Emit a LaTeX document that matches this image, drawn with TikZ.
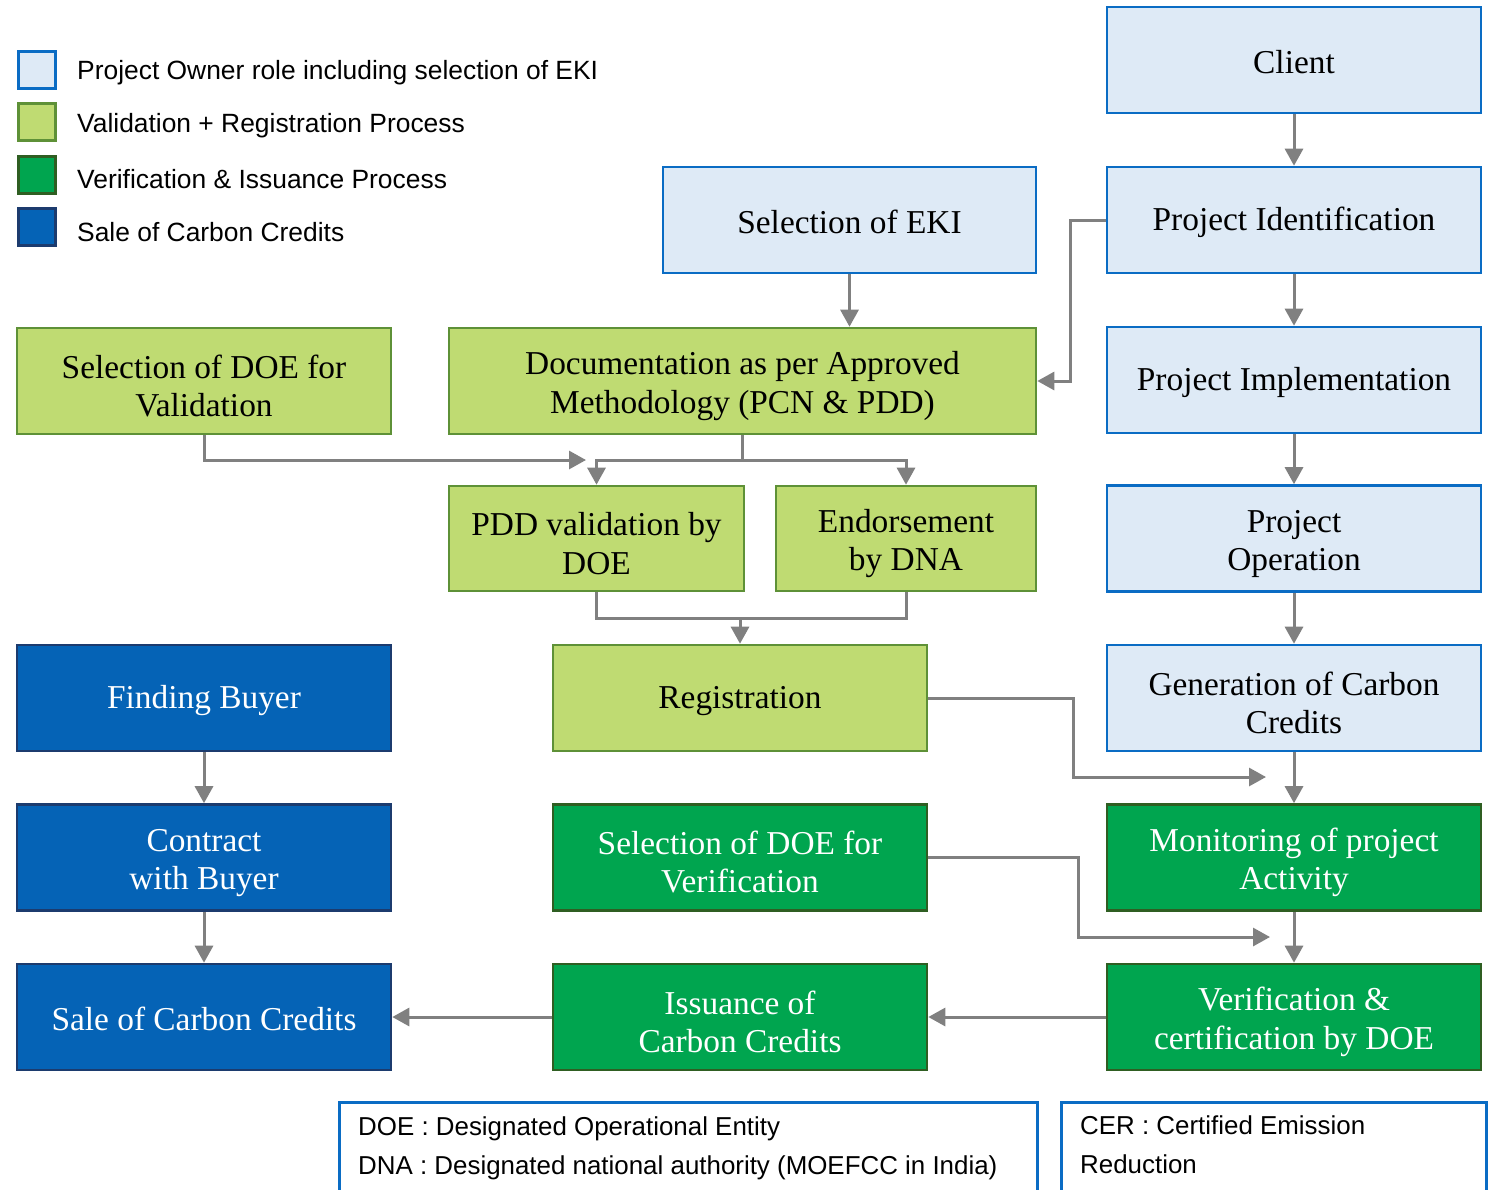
\documentclass[tikz,border=0pt]{standalone}
\usepackage{fontspec}
\setmainfont{Liberation Serif}
\newfontfamily\legfont{Liberation Sans}
\usetikzlibrary{arrows.meta}
\newcommand\tstrut{\rule{0pt}{33bp}}
\definecolor{lbfill}{HTML}{DEEAF6}
\definecolor{lbdraw}{HTML}{0A6CC4}
\definecolor{lgfill}{HTML}{BFDB72}
\definecolor{lgdraw}{HTML}{5E9137}
\definecolor{dgfill}{HTML}{00A54F}
\definecolor{dgdraw}{HTML}{2F5E22}
\definecolor{dbfill}{HTML}{0563B6}
\definecolor{dbdraw}{HTML}{1C3B6E}
\definecolor{conncol}{HTML}{808080}
\tikzset{
  base/.style={rectangle, line width=2.6bp, minimum width=374bp, minimum height=106bp, align=center, inner sep=2bp, font=\fontsize{33.5}{38.5}\selectfont, execute at begin node={\rule{0pt}{28bp}}},
  twoline/.style={execute at begin node={}},
  pbox/.style={base, fill=lbfill, draw=lbdraw, text=black},
  vbox/.style={base, fill=lgfill, draw=lgdraw, text=black},
  ibox/.style={base, fill=dgfill, draw=dgdraw, text=white},
  sbox/.style={base, fill=dbfill, draw=dbdraw, text=white},
  conn/.style={draw=conncol, line width=3bp},
  arr/.style={conn, -{Triangle[length=17bp,width=18bp]}},
  legsq/.style={rectangle, line width=2.6bp, minimum width=37bp, minimum height=37bp, inner sep=0pt},
  legtxt/.style={anchor=west, inner sep=0pt, font=\legfont\fontsize{26.5}{30}\selectfont},
  notebox/.style={rectangle, draw=lbdraw, fill=white, line width=2.6bp, anchor=north west, align=left, inner sep=0pt},
  notetxt/.style={anchor=north west, inner sep=0pt, align=left, font=\legfont\fontsize{26}{38.5}\selectfont},
}
\begin{document}
\begin{tikzpicture}[x=1bp,y=-1bp]
\useasboundingbox[fill=white] (0,0) rectangle (1491,1189);
% legend
\node[legsq, fill=lbfill, draw=lbdraw] (l1) at (37,70) {};
\node[legsq, fill=lgfill, draw=lgdraw] (l2) at (37,122) {};
\node[legsq, fill=dgfill, draw=dgdraw] (l3) at (37,175) {};
\node[legsq, fill=dbfill, draw=dbdraw] (l4) at (37,227) {};
\node[legtxt] (t1) at (77,73) {Project Owner role including selection of EKI};
\node[legtxt] (t2) at (77,126) {Validation + Registration Process};
\node[legtxt] (t3) at (77,179) {Verification \& Issuance Process};
\node[legtxt] (t4) at (77,232) {Sale of Carbon Credits};
% right column
\node[pbox] (client) at (1294,60) {Client};
\node[pbox] (pid) at (1294,220) {Project Identification};
\node[pbox] (pimpl) at (1294,380) {Project Implementation};
\node[pbox, twoline] (pop) at (1294,538.5) {\tstrut Project\\Operation};
\node[pbox, twoline] (gen) at (1294,698) {\tstrut Generation of Carbon\\Credits};
\node[ibox, twoline] (mon) at (1294,857.5) {\tstrut Monitoring of project\\Activity};
\node[ibox, twoline] (ver) at (1294,1017) {\tstrut Verification \&\\certification by DOE};
% middle
\node[pbox, minimum width=373bp] (eki) at (849.5,220) {Selection of EKI};
\node[vbox, twoline, minimum width=587bp] (doc) at (742.5,381) {\tstrut Documentation as per Approved\\Methodology (PCN \& PDD)};
\node[vbox, twoline, minimum width=295bp, minimum height=105bp] (pdd) at (596.5,538.5) {\tstrut PDD validation by\\DOE};
\node[vbox, twoline, minimum width=260bp, minimum height=105bp] (endo) at (906,538.5) {\tstrut Endorsement\\by DNA};
\node[vbox] (reg) at (740,698) {Registration};
\node[ibox, twoline] (sdv) at (740,857.5) {\tstrut Selection of DOE for\\Verification};
\node[ibox, twoline] (iss) at (740,1017) {\tstrut Issuance of\\Carbon Credits};
% left
\node[vbox, twoline] (sdval) at (204,381) {\tstrut Selection of DOE for\\Validation};
\node[sbox] (fb) at (204,698) {Finding Buyer};
\node[sbox, twoline] (cb) at (204,857.5) {\tstrut Contract\\with Buyer};
\node[sbox] (sale) at (204,1017) {Sale of Carbon Credits};
% notes
\node[notebox, minimum width=698bp, minimum height=100bp] (n1) at (338,1101) {};
\node[notetxt] (n1t) at (358,1117) {DOE : Designated Operational Entity\\DNA : Designated national authority (MOEFCC in India)};
\node[notebox, minimum width=425bp, minimum height=100bp] (n2) at (1060,1101) {};
\node[notetxt] (n2t) at (1080,1116) {CER : Certified Emission\\Reduction};
% connectors right column
\draw[arr] (client) -- (pid);
\draw[arr] (pid) -- (pimpl);
\draw[arr] (pimpl) -- (pop);
\draw[arr] (pop) -- (gen);
\draw[arr] (gen) -- (mon);
\draw[arr] (mon) -- (ver);
\draw[arr] (pid.west) -- ++(-35,0) |- (doc.east);
\draw[arr] (eki.south) -- (eki.south |- doc.north);
% split to pdd / endorsement
\coordinate (j1) at (742,460);
\draw[conn] (doc.south -| j1) -- (j1);
\draw[arr] (j1) -| (pdd.north);
\draw[arr] (j1) -| (endo.north);
\coordinate (v1) at (586,460);
\draw[arr] (sdval.south) |- (v1);
% merge to registration
\coordinate (j2) at (740,618);
\draw[conn] (pdd.south) |- (j2) -| (endo.south);
\draw[arr] (j2) -- (reg.north);
% registration to monitoring
\coordinate (r1) at (1266,777);
\draw[arr] (reg.east) -- ++(145,0) |- (r1);
\coordinate (r2) at (1270,937);
\draw[arr] (sdv.east) -- ++(150,0) |- (r2);
\draw[arr] (ver) -- (iss);
\draw[arr] (iss) -- (sale);
\draw[arr] (fb) -- (cb);
\draw[arr] (cb) -- (sale);
\end{tikzpicture}
\end{document}
